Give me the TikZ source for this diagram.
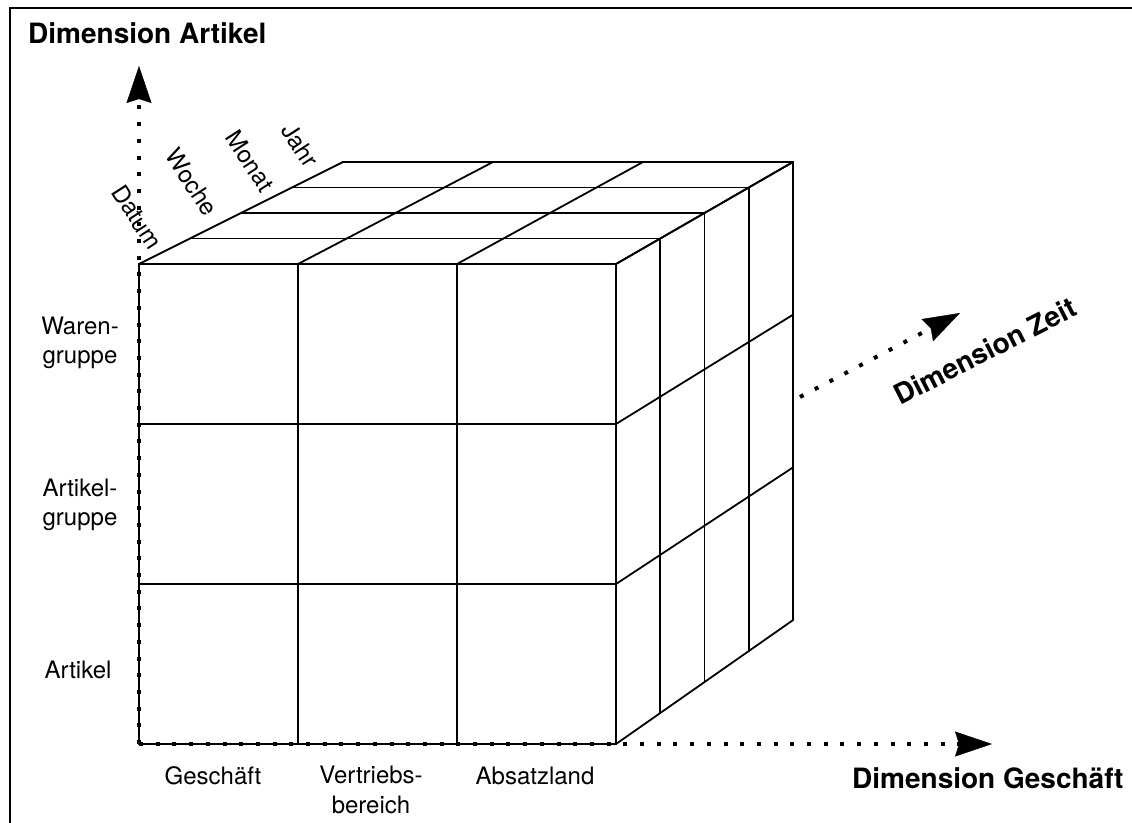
\documentclass[tikz,border=0pt]{standalone}
\usepackage{fontspec}
\setmainfont{TeX Gyre Heros}
\usetikzlibrary{arrows.meta}
\begin{document}
\begin{tikzpicture}[x=1pt,y=-1pt,
  edge/.style={line width=1.8pt, line join=round, line cap=round},
  dimarrow/.style={line width=4pt, dash pattern=on 4pt off 12.7pt,
    -{Stealth[length=37pt,width=25pt,inset=4pt,line width=0.4pt]}},
  lbl/.style={font=\fontsize{24}{29.5}\selectfont, inner sep=0pt, align=center},
  dimlbl/.style={font=\fontsize{28}{34}\selectfont\bfseries, inner sep=0pt}]
\useasboundingbox (0,0) rectangle (1132,822);
% outer frame, running off the page at right and bottom
\begin{scope}
  \clip (0,0) rectangle (1132,822);
  \draw[line width=1.8pt] (10,8) rectangle (1160,850);
\end{scope}

% grid points of the cube: u = column, v = row, w = depth slice
\foreach \u in {0,1,2,3}{
  \foreach \v in {0,1,2,3}{
    \foreach \w in {0,1,2,3,4}{
      \pgfmathsetmacro\fx{139+159*\u}
      \pgfmathsetmacro\fy{264+160*\v}
      \pgfmathsetmacro\bx{343+150*\u}
      \pgfmathsetmacro\by{162+152.7*\v}
      \coordinate (p\u\v\w) at ({\fx+(\bx-\fx)*\w/4},{\fy+(\by-\fy)*\w/4});
    }}}

% front face
\foreach \v in {0,1,2,3} \draw[edge] (p0\v0) -- (p3\v0);
\foreach \u in {0,1,2,3} \draw[edge] (p\u00) -- (p\u30);
% top face
\foreach \w in {0,1,2,3,4} \draw[edge] (p00\w) -- (p30\w);
\foreach \u in {0,1,2,3} \draw[edge] (p\u00) -- (p\u04);
% right face
\foreach \w in {0,1,2,3,4} \draw[edge] (p30\w) -- (p33\w);
\foreach \v in {0,1,2,3} \draw[edge] (p3\v0) -- (p3\v4);

% dimension axes
\coordinate (artTip) at (139,66);
\coordinate (gesTip) at (992,744);
\coordinate (zeitStart) at (800,397);
\coordinate (zeitTip) at (960,313);
\draw[dimarrow] (p030) -- (artTip);
\draw[dimarrow] (p030) -- (gesTip);
\draw[dimarrow] (zeitStart) -- (zeitTip);

\node[dimlbl, anchor=base west] (dimArt) at (28,43) {Dimension Artikel};
\node[dimlbl, anchor=base west] (dimGes) at (852,788) {Dimension Geschäft};
\node[dimlbl, rotate=27] (dimZeit) at (985,351) {Dimension Zeit};

% article levels
\node[lbl] (waren) at (80,343) {Waren-\\gruppe};
\node[lbl] (artgr) at (80,505) {Artikel-\\gruppe};
\node[lbl] (artikel) at (78,670) {Artikel};

% business levels
\node[lbl, anchor=base] (geschaeft) at (213,784) {Geschäft};
\node[lbl, anchor=north] (vertrieb) at (371,766) {Vertriebs-\\bereich};
\node[lbl, anchor=base] (absatz) at (535,784) {Absatzland};

% time levels
\node[lbl, rotate=-57] (datum) at (137,217) {Datum};
\node[lbl, rotate=-57] (woche) at (192,182) {Woche};
\node[lbl, rotate=-57] (monat) at (250,161) {Monat};
\node[lbl, rotate=-57] (jahr) at (300,145) {Jahr};
\end{tikzpicture}
\end{document}
